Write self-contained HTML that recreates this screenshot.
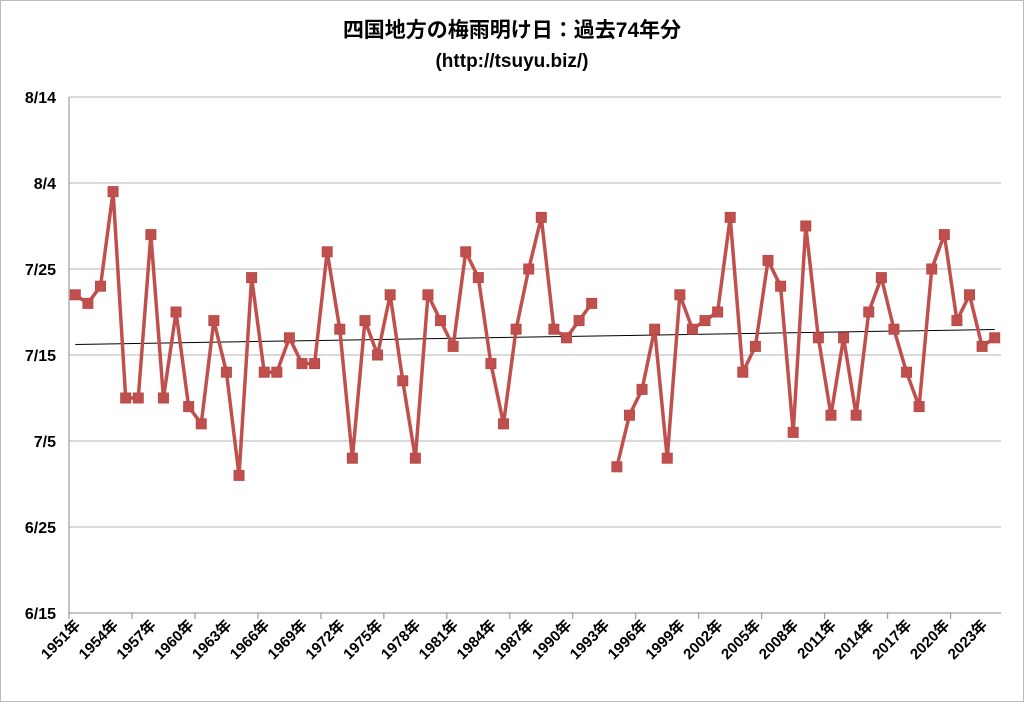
<!DOCTYPE html>
<html><head><meta charset="utf-8">
<style>
html,body{margin:0;padding:0;background:#fff;}
body{width:1024px;height:702px;overflow:hidden;font-family:"Liberation Sans","Noto Sans CJK JP",sans-serif;}
svg text{font-family:"Liberation Sans","Noto Sans CJK JP",sans-serif;font-weight:bold;}
</style></head>
<body>
<svg id="chart" width="1024" height="702">
<rect x="0.5" y="0.5" width="1023" height="701" fill="#fff" stroke="#bbb"/>
<text x="512" y="37" text-anchor="middle" font-size="21" fill="#000">四国地方の梅雨明け日：過去74年分</text>
<text x="512" y="67" text-anchor="middle" font-size="19" fill="#000">(http://tsuyu.biz/)</text>
<g id="grid"></g><g id="axes"></g><g id="trend"></g><g id="series"></g>
</svg>
<script>
const years = [];
for (let y = 1951; y <= 2024; y++) years.push(y);
const endDates = ["7/22","7/21","7/23","8/3","7/10","7/10","7/29","7/10","7/20","7/9",
"7/7","7/19","7/13","7/1","7/24","7/13","7/13","7/17","7/14","7/14",
"7/27","7/18","7/3","7/19","7/15","7/22","7/12","7/3","7/22","7/19",
"7/16","7/27","7/24","7/14","7/7","7/18","7/25","7/31","7/18","7/17",
"7/19","7/21",null,"7/2","7/8","7/11","7/18","7/3","7/22","7/18",
"7/19","7/20","7/31","7/13","7/16","7/26","7/23","7/6","7/30","7/17",
"7/8","7/17","7/8","7/20","7/24","7/18","7/13","7/9","7/25","7/29",
"7/19","7/22","7/16","7/17"];
const yTickLabels = ["6/15","6/25","7/5","7/15","7/25","8/4","8/14"];

const NS = "http://www.w3.org/2000/svg";
const X0 = 69, X1 = 1001, Y0 = 613, Y1 = 97;
function dayNum(s){const [m,d]=s.split("/").map(Number);return (m===6?d:m===7?30+d:61+d);}
const dMin = dayNum("6/15"), dMax = dayNum("8/14");
const step = (X1-X0)/years.length;
function xScale(i){return X0 + step*(i+0.5);}
function yScale(v){return Y0 - (v-dMin)/(dMax-dMin)*(Y0-Y1);}
function mk(tag, attrs, parent){const e=document.createElementNS(NS,tag);for(const k in attrs)e.setAttribute(k,attrs[k]);parent.appendChild(e);return e;}

const grid=document.getElementById("grid"), axes=document.getElementById("axes");
yTickLabels.forEach(lbl=>{
  const y=yScale(dayNum(lbl));
  const g=mk("line",{x1:X0,x2:X1,y1:y,y2:y,stroke:"#b5b5b5","stroke-width":1},grid);
  
  
  const t=mk("text",{x:56,y:y+6,"text-anchor":"end","font-size":"16",fill:"#000"},axes);
  t.textContent=lbl;
  
  
});
const ax=mk("line",{x1:X0,x2:X0,y1:Y1,y2:Y0,stroke:"#888"},axes);


const bx=mk("line",{x1:X0,x2:X1,y1:Y0,y2:Y0,stroke:"#888"},axes);


years.forEach((yr,i)=>{
  if(i%5===0){
    const tk=mk("line",{x1:X0+step*i,x2:X0+step*i,y1:Y0,y2:Y0+6,stroke:"#888"},axes);
    
    
  }
  if(i%3===0){
    const x=xScale(i)+6, y=Y0+13;
    const t=mk("text",{x:x,y:y,"text-anchor":"end","font-size":"15",fill:"#000",transform:`rotate(-45 ${x} ${y})`},axes);
    t.textContent=yr+"年";
    
    
  }
});

let n=0,sx=0,sy=0,sxx=0,sxy=0;
endDates.forEach((d,i)=>{if(d){const v=dayNum(d);n++;sx+=i;sy+=v;sxx+=i*i;sxy+=i*v;}});
const b=(n*sxy-sx*sy)/(n*sxx-sx*sx), a=(sy-b*sx)/n;
const tl=mk("line",{x1:xScale(0),y1:yScale(a),x2:xScale(years.length-1),y2:yScale(a+b*(years.length-1)),stroke:"#000","stroke-width":1},document.getElementById("trend"));



const series=document.getElementById("series");
let segs=[],cur=[];
endDates.forEach((d,i)=>{if(d){cur.push([xScale(i),yScale(dayNum(d))]);}else{if(cur.length)segs.push(cur);cur=[];}});
if(cur.length)segs.push(cur);
segs.forEach(s=>{
  const p=mk("polyline",{points:s.map(q=>q.join(",")).join(" "),fill:"none",stroke:"#c0504d","stroke-width":3.5,"stroke-linejoin":"round"},series);
  
  
});
endDates.forEach((d,i)=>{
  if(!d)return;
  const x=xScale(i),y=yScale(dayNum(d));
  const r=mk("rect",{x:x-5,y:y-5,width:10,height:10,fill:"#c0504d",stroke:"#b94a47"},series);
  
  
});
</script>
</body></html>
